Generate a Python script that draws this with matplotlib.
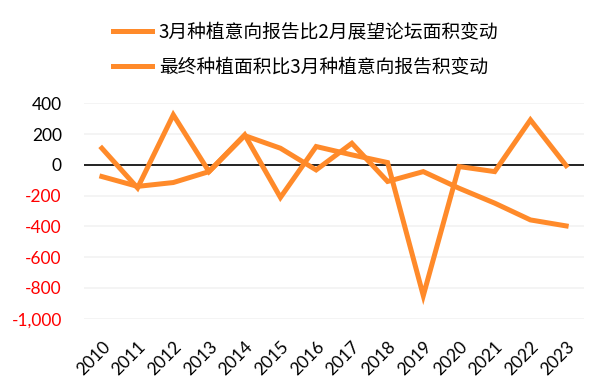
import matplotlib
matplotlib.use("Agg")
import matplotlib.pyplot as plt
import numpy as np

# data
years = ['2010', '2011', '2012', '2013', '2014', '2015', '2016',
         '2017', '2018', '2019', '2020', '2021', '2022', '2023']
march_vs_feb = [108, -150, 325, -44, 195, -212, 119, 65, 15, -850, -11, -44, 292, -5]
final_vs_march = [-76, -140, -115, -44, 190, 108, -33, 140, -108, -44, -152, -249, -358, -397]
labels = ['3月种植意向报告比2月展望论坛面积变动', '最终种植面积比3月种植意向报告积变动']
yticks = [-1000, -800, -600, -400, -200, 0, 200, 400]

orange = '#FF8A2A'
plt.rcParams['font.family'] = ['Lato', 'Noto Sans CJK SC', 'DejaVu Sans']

fig = plt.figure(figsize=(6.08, 3.87), dpi=100)
ax = fig.add_axes([84/608, 1 - 318.7/387, 500/608, 215.4/387])

x = np.arange(len(years))
l1, = ax.plot(x, march_vs_feb, color=orange, lw=3.6, solid_joinstyle='miter', zorder=3)
l2, = ax.plot(x, final_vs_march, color=orange, lw=3.6, solid_joinstyle='miter', zorder=3)
ax.axhline(0, color='black', lw=1.2, zorder=2)

ax.set_xlim(-0.5, len(years) - 0.5)
ax.set_ylim(-1000, 400)
ax.set_yticks(yticks)
ax.set_yticklabels([f'{v:,}' for v in yticks], fontsize=12.5)
for t, v in zip(ax.get_yticklabels(), yticks):
    t.set_color('red' if v < 0 else 'black')
ax.yaxis.grid(True, color='#F2F2F2', lw=1.2)
ax.set_axisbelow(True)
ax.tick_params(axis='y', length=0, pad=16)

ax.set_xticks(x)
ax.set_xticklabels(years, rotation=45, ha='right', va='top', rotation_mode='anchor', fontsize=12.5)
ax.tick_params(axis='x', length=0, pad=14)

for s in ax.spines.values():
    s.set_visible(False)

fig.legend([l1, l2], labels, loc='upper left', bbox_to_anchor=(113/608, 1 - 22/387),
           frameon=False, borderpad=0, borderaxespad=0, handlelength=2.1,
           handletextpad=0.35, labelspacing=0.72,
           prop={'family': ['Noto Sans CJK SC'], 'size': 13.5})

fig.savefig('out.png', dpi=100)
